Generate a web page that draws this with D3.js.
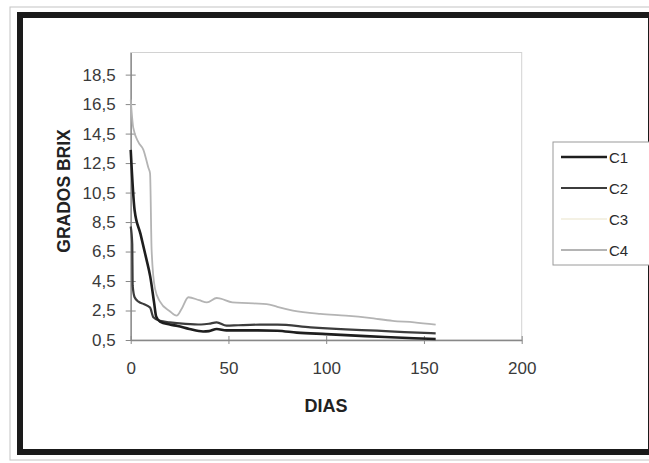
<!DOCTYPE html>
<html>
<head>
<meta charset="utf-8">
<script src="https://cdn.jsdelivr.net/npm/d3@7"></script>
<style>
  body { margin: 0; background: #fff; }
  svg { display: block; font-family: "Liberation Sans", Arial, sans-serif; }
  .axis path, .axis line { stroke: #888; }
  .axis text { fill: #3a3a3a; font-size: 17px; }
</style>
</head>
<body>
<svg id="brix" width="649" height="463"></svg>
<script>
// Grados Brix vs dias, por tratamiento
var seriesNames = ["C1", "C2", "C3", "C4"];

var diasC1 = [0, 2, 5, 8, 10, 12, 13, 15, 20, 24, 30, 37, 40, 44, 49, 55, 65, 75, 85, 100, 115, 130, 145, 156];
var brixC1 = [13.4, 9.3, 7.7, 6.0, 4.8, 3.0, 2.1, 1.75, 1.55, 1.45, 1.25, 1.08, 1.1, 1.25, 1.15, 1.15, 1.15, 1.13, 1.0, 0.9, 0.8, 0.7, 0.62, 0.57];

var diasC2 = [0, 0.8, 1, 2, 4, 6.5, 9.9, 11.6, 15, 20, 28, 36, 40, 44, 49, 55, 66, 75, 92, 110, 126, 140, 156];
var brixC2 = [8.2, 7.0, 4.2, 3.4, 3.1, 2.95, 2.7, 2.04, 1.8, 1.7, 1.6, 1.55, 1.6, 1.7, 1.47, 1.5, 1.54, 1.54, 1.36, 1.22, 1.13, 1.03, 0.95];

var diasC3 = [];
var brixC3 = [];

var diasC4 = [0, 1.3, 4, 6.5, 9, 9.9, 10.7, 12.4, 15, 20, 23.5, 26, 29.5, 35, 39, 44, 46, 52, 60, 71, 75, 83, 97, 110, 122, 134, 145, 156];
var brixC4 = [16.8, 14.9, 13.9, 13.4, 12.2, 11.8, 6.6, 4.0, 3.1, 2.45, 2.15, 2.6, 3.4, 3.2, 3.05, 3.35, 3.3, 3.05, 3.0, 2.9, 2.75, 2.5, 2.27, 2.15, 2.0, 1.8, 1.7, 1.54];

var xTicks = [0, 50, 100, 150, 200];
var yTicks = [0.5, 2.5, 4.5, 6.5, 8.5, 10.5, 12.5, 14.5, 16.5, 18.5];

var styles = {
  C1: {color: "#1e1e1e", width: 2.6},
  C2: {color: "#3c3c3c", width: 2.2},
  C3: {color: "#f4f1e4", width: 2},
  C4: {color: "#b4b4b4", width: 1.8}
};

var data = [
  {name: "C1", values: diasC1.map((d, i) => ({x: d, y: brixC1[i]}))},
  {name: "C2", values: diasC2.map((d, i) => ({x: d, y: brixC2[i]}))},
  {name: "C3", values: diasC3.map((d, i) => ({x: d, y: brixC3[i]}))},
  {name: "C4", values: diasC4.map((d, i) => ({x: d, y: brixC4[i]}))}
];

var svg = d3.select("#brix");

// marco exterior
svg.append("rect")
    .attr("x", 10).attr("y", 7)
    .attr("width", 650).attr("height", 453)
    .attr("fill", "none").attr("stroke", "#c4c4c4");

svg.append("rect")
    .attr("x", 20).attr("y", 15)
    .attr("width", 631).attr("height", 437)
    .attr("fill", "#fff").attr("stroke", "#1a1a1a").attr("stroke-width", 6);

var x = d3.scaleLinear().domain([0, 200]).range([130.7, 521.7]);
var y = d3.scaleLinear().domain([0.5, 20]).range([340, 52.5]);

// area de trazado
svg.append("rect")
    .attr("x", x(0)).attr("y", y(20))
    .attr("width", x(200) - x(0)).attr("height", y(0.5) - y(20))
    .attr("fill", "none").attr("stroke", "#d2d2d2");

var fmt = d => d3.format(".1f")(d).replace(".", ",");

var yAxis = svg.append("g")
    .attr("class", "axis")
    .attr("transform", "translate(" + x(0) + ",0)")
    .call(d3.axisLeft(y).tickValues(yTicks).tickFormat(fmt).tickSize(5).tickPadding(10).tickSizeOuter(0));
yAxis.selectAll(".tick line").attr("x2", -5).attr("x1", 5);
yAxis.select(".domain").attr("stroke-width", 1.4);

var xAxis = svg.append("g")
    .attr("class", "axis")
    .attr("transform", "translate(0," + y(0.5) + ")")
    .call(d3.axisBottom(x).tickValues(xTicks).tickFormat(d3.format("d")).tickSize(5).tickPadding(17).tickSizeOuter(0));
xAxis.selectAll(".tick line").attr("y1", -4).attr("y2", 4);
xAxis.select(".domain").attr("stroke-width", 1.4);
xAxis.selectAll("text").attr("fill", "#555");

var line = d3.line()
    .x(d => x(d.x))
    .y(d => y(d.y))
    .curve(d3.curveMonotoneX);

svg.selectAll(".serie")
    .data(data.slice().reverse())
    .enter().append("path")
    .attr("class", "serie")
    .attr("d", d => line(d.values))
    .attr("fill", "none")
    .attr("stroke", d => styles[d.name].color)
    .attr("stroke-width", d => styles[d.name].width)
    .attr("stroke-linejoin", "round");

// titulos de ejes
svg.append("text")
    .attr("x", 326).attr("y", 412)
    .attr("text-anchor", "middle")
    .attr("font-size", 18).attr("font-weight", "bold")
    .attr("fill", "#222")
    .text("DIAS");

svg.append("text")
    .attr("transform", "translate(70,191) rotate(-90)")
    .attr("text-anchor", "middle")
    .attr("font-size", 17.5).attr("font-weight", "bold")
    .attr("fill", "#222")
    .text("GRADOS BRIX");

// leyenda
var legend = svg.append("g");
legend.append("rect")
    .attr("x", 553).attr("y", 142)
    .attr("width", 110).attr("height", 123)
    .attr("fill", "#fff").attr("stroke", "#9a9a9a");

var rows = legend.selectAll(".row")
    .data(seriesNames)
    .enter().append("g")
    .attr("class", "row")
    .attr("transform", (d, i) => "translate(0," + (157 + i * 31) + ")");

rows.append("line")
    .attr("x1", 561).attr("x2", 607)
    .attr("stroke", d => styles[d].color)
    .attr("stroke-width", d => styles[d].width);

rows.append("text")
    .attr("x", 609).attr("y", 5.5)
    .attr("font-size", 15)
    .attr("fill", "#2a2a2a")
    .text(d => d);
</script>
</body>
</html>
